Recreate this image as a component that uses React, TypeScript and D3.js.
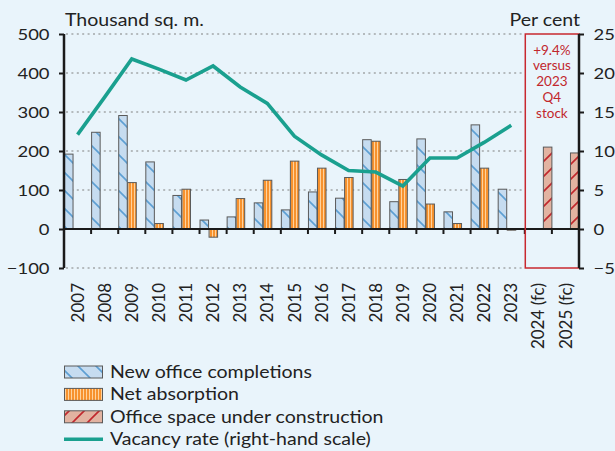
import React, { useEffect, useRef } from 'react';
import * as d3 from 'd3';

const years = ['2007', '2008', '2009', '2010', '2011', '2012', '2013', '2014', '2015', '2016', '2017', '2018', '2019', '2020', '2021', '2022', '2023', '2024 (fc)', '2025 (fc)'];
const completions = [192, 248, 291, 172, 86, 23, 31, 67, 49, 95, 79, 229, 70, 231, 44, 267, 102, null, null];
const absorption = [0, 0, 119, 14, 102, -21, 78, 125, 174, 156, 132, 225, 127, 64, 14, 156, -3, null, null];
const underConstruction = [null, null, null, null, null, null, null, null, null, null, null, null, null, null, null, null, null, 210, 195];
const vacancy = [12.1, 16.9, 21.8, 20.5, 19.1, 20.9, 18.2, 16.1, 11.9, 9.5, 7.5, 7.3, 5.5, 9.1, 9.1, 11.1, 13.3];
const leftTicks = [-100, 0, 100, 200, 300, 400, 500];
const rightTicks = [-5, 0, 5, 10, 15, 20, 25];
const noteLines = ['+9.4%', 'versus', '2023', 'Q4', 'stock'];
const legendItems = ['New office completions', 'Net absorption', 'Office space under construction', 'Vacancy rate (right-hand scale)'];

const FONT = 'Lato, sans-serif';
const SX = 1.15; // the reference type is a little wider than Lato

function App() {
  const ref = useRef<SVGSVGElement>(null);

  useEffect(() => {
    const svg = d3.select(ref.current);
    svg.selectAll('*').remove();

    const left = 64, right = 579, top = 34, bottom = 268;

    const x = d3.scaleBand().domain(years).range([left, right]).padding(0);
    const y = d3.scaleLinear().domain([-100, 500]).range([bottom, top]);
    const y2 = d3.scaleLinear().domain([-5, 25]).range([bottom, top]);
    const slot = x.bandwidth() / 3;

    const defs = svg.append('defs');
    const p1 = defs.append('pattern').attr('id', 'pComp').attr('patternUnits', 'userSpaceOnUse').attr('width', 18).attr('height', 18);
    p1.append('rect').attr('width', 18).attr('height', 18).attr('fill', '#c6dcf0');
    p1.append('path').attr('d', 'M-1,-1 L19,19 M17,-1 L19,1 M-1,17 L1,19').attr('stroke', '#5d9fd3').attr('stroke-width', 1.6);

    const p2 = defs.append('pattern').attr('id', 'pAbs').attr('patternUnits', 'userSpaceOnUse').attr('width', 3).attr('height', 3);
    p2.append('rect').attr('width', 3).attr('height', 3).attr('fill', '#f7922e');
    p2.append('rect').attr('x', 2).attr('width', 1).attr('height', 3).attr('fill', '#ffd29c');

    const p3 = defs.append('pattern').attr('id', 'pCon').attr('patternUnits', 'userSpaceOnUse').attr('width', 15).attr('height', 15);
    p3.append('rect').attr('width', 15).attr('height', 15).attr('fill', '#e2b3a1');
    p3.append('path').attr('d', 'M-1,16 L16,-1 M-1,1 L1,-1 M14,16 L16,14').attr('stroke', '#c1272d').attr('stroke-width', 1.6);

    // background
    svg.append('rect').attr('width', 615).attr('height', 451).attr('fill', '#e9f4fb');

    // grid
    const boxLeft = x('2024 (fc)') as number;
    svg.append('g').selectAll('line')
      .data(leftTicks.filter(d => d !== 0))
      .join('line')
      .attr('x1', left + 2).attr('x2', boxLeft)
      .attr('y1', d => y(d)).attr('y2', d => y(d))
      .attr('stroke', '#808080').attr('stroke-width', 1.2)
      .attr('stroke-dasharray', '2,3.4');

    // bars
    const bars = svg.append('g').attr('stroke', '#5a5a5a').attr('stroke-width', 1);
    const drawBars = (vals: (number | null)[], k: number, fill: string) => {
      bars.append('g').selectAll('rect')
        .data(vals.map((v, i) => ({ v, yr: years[i] })).filter(d => d.v !== null))
        .join('rect')
        .attr('x', d => (x(d.yr) as number) + k * slot + 0.5)
        .attr('width', slot - 0.5)
        .attr('y', d => y(Math.max(0, d.v as number)))
        .attr('height', d => Math.abs(y(d.v as number) - y(0)))
        .attr('fill', fill);
    };
    drawBars(completions, 0, 'url(#pComp)');
    drawBars(absorption, 1, 'url(#pAbs)');
    drawBars(underConstruction, 2, 'url(#pCon)');

    // zero line
    svg.append('line').attr('x1', left).attr('x2', right).attr('y1', y(0)).attr('y2', y(0))
      .attr('stroke', '#1a1a1a').attr('stroke-width', 2.2);
    // bottom ticks
    svg.append('g').selectAll('line')
      .data(years.slice(1))
      .join('line')
      .attr('x1', d => x(d) as number).attr('x2', d => x(d) as number)
      .attr('y1', y(0)).attr('y2', y(0) + 5)
      .attr('stroke', '#1a1a1a').attr('stroke-width', 2);

    // vacancy line
    const line = d3.line<number>()
      .x((d, i) => (x(years[i]) as number) + x.bandwidth() / 2)
      .y(d => y2(d));
    svg.append('path').datum(vacancy)
      .attr('d', line)
      .attr('fill', 'none').attr('stroke', '#1aa08f').attr('stroke-width', 3.6)
      .attr('stroke-linejoin', 'miter');

    // annotation box
    svg.append('rect').attr('x', boxLeft + 0.5).attr('y', top).attr('width', right - boxLeft - 0.5).attr('height', bottom - top)
      .attr('fill', 'none').attr('stroke', '#c8282f').attr('stroke-width', 1.5);
    svg.append('g').selectAll('text')
      .data(noteLines)
      .join('text')
      .attr('x', boxLeft + x.bandwidth())
      .attr('y', (d, i) => 54.5 + i * 15.8)
      .attr('text-anchor', 'middle')
      .attr('font-family', FONT).attr('font-size', 13.5).attr('fill', '#c1272d')
      .text(d => d);

    const fmt = (d: d3.NumberValue) => String(d).replace('-', '\u2212');

    // left axis
    const ax = svg.append('g').attr('transform', `translate(${left},0)`)
      .call(d3.axisLeft(y).tickValues(leftTicks).tickSize(5).tickFormat(fmt));
    ax.select('.domain').attr('stroke', '#1a1a1a').attr('stroke-width', 2.5).attr('d', `M0,${top}V${bottom}`);
    ax.selectAll('.tick line').attr('stroke', '#1a1a1a').attr('stroke-width', 2);
    ax.selectAll('.tick text').attr('font-family', FONT).attr('font-size', 16).attr('fill', '#222')
      .attr('x', 0).attr('transform', `translate(-14.5,0) scale(${SX},1)`);

    const ax2 = svg.append('g').attr('transform', `translate(${right},0)`)
      .call(d3.axisRight(y2).tickValues(rightTicks).tickSize(5).tickFormat(fmt));
    ax2.select('.domain').attr('stroke', '#1a1a1a').attr('stroke-width', 2.5).attr('d', `M0,${top}V${bottom}`);
    ax2.selectAll('.tick line').attr('stroke', '#1a1a1a').attr('stroke-width', 2);
    ax2.selectAll('.tick text').attr('font-family', FONT).attr('font-size', 16).attr('fill', '#222')
      .attr('x', 0).attr('transform', `translate(14.5,0) scale(${SX},1)`);

    const hText = (tx: number, ty: number, s: string, anchor = 'start', size = 17) =>
      svg.append('text').attr('transform', `translate(${tx},${ty}) scale(${SX},1)`)
        .attr('text-anchor', anchor).attr('font-family', FONT).attr('font-size', size).attr('fill', '#222').text(s);

    hText(65, 26, 'Thousand sq. m.');
    hText(580, 26, 'Per cent', 'end');

    // x labels
    svg.append('g').selectAll('text')
      .data(years)
      .join('text')
      .attr('transform', d => `translate(${(x(d) as number) + x.bandwidth() / 2},283) rotate(-90)`)
      .attr('dy', '0.36em')
      .attr('text-anchor', 'end')
      .attr('font-family', FONT).attr('font-size', 17).attr('fill', '#222')
      .text(d => d);

    // legend
    const fills = ['url(#pComp)', 'url(#pAbs)', 'url(#pCon)'];
    legendItems.forEach((name, i) => {
      const cy = 372 + i * 22.4;
      if (i < 3) {
        svg.append('rect').attr('x', 64.5).attr('y', cy - 6).attr('width', 38).attr('height', 12)
          .attr('fill', fills[i]).attr('stroke', '#5a5a5a').attr('stroke-width', 1);
      } else {
        svg.append('line').attr('x1', 64).attr('x2', 103).attr('y1', cy).attr('y2', cy)
          .attr('stroke', '#1aa08f').attr('stroke-width', 3.6);
      }
      hText(110, cy + 6, name);
    });
  }, []);

  return (
    <div style={{ position: 'absolute', left: 0, top: 0 }}>
      <svg ref={ref} width={615} height={451} style={{ display: 'block' }} />
    </div>
  );
}

export default App;
